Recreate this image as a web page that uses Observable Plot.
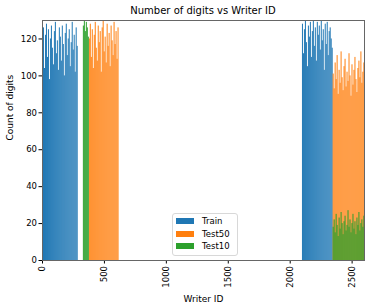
<!DOCTYPE html>
<html>
<head>
<meta charset="utf-8">
<script src="https://cdn.jsdelivr.net/npm/d3@7"></script>
<script src="https://cdn.jsdelivr.net/npm/@observablehq/plot@0.6"></script>
<style>
  body { margin: 0; background: #fff; font-family: "DejaVu Sans", sans-serif; }
  #wrap { position: relative; width: 374px; height: 308px; }
  #title { position: absolute; top: 5px; left: 42px; width: 322px; text-align: center; font-size: 10px; color: #000; }
  #legend { position: absolute; left: 172px; top: 213px; width: 64px; height: 41px; border: 1px solid #d8d8d8; border-radius: 3px; background: rgba(255,255,255,0.85); font-size: 8.5px; }
  .row { position: absolute; left: 3px; height: 12px; display: flex; align-items: center; }
  .sw { width: 18px; height: 6px; margin-right: 8px; }
</style>
</head>
<body>
<div id="wrap">
  <div id="title">Number of digits vs Writer ID</div>
</div>
<script>
const series = ["Train", "Test50", "Test10"];
const colors = ["#1f77b4", "#ff7f0e", "#2ca02c"];
const step = 8;

// start writer ID of each block, and counts per group of writers
const train1Start = 0;
const train1 = [118,126,104,122,128,110,125,98,120,127,115,106,124,129,112,119,103,126,121,108,127,117,100,123,128,111,120,125,105,118,129,114,122,102,126,116];
const test10aStart = 330;
const test10a = [127,130,124,129,126,121];
const test50aStart = 378;
const test50a = [120,128,110,125,104,122,129,115,108,127,118,124,102,126,130,113,121,107,128,116,123,105,127,119,111,129,117,124,109,126];
const train2Start = 2099;
const train2 = [128,112,125,130,118,105,127,121,129,110,124,130,116,126,108,129,122,127,114,130,119,125,103,128,117,129,111,124,126,120,115];
const test50bStart = 2347;
const test50b = [101,93,107,98,111,90,103,96,113,99,92,105,109,94,102,97,112,100,89,106,95,103,110,98,91,104,108,99,113,96,102,107];
const test10bStart = 2347;
const test10b = [18,22,15,25,19,13,23,17,26,20,14,21,24,16,19,27,18,22,15,20,25,17,21,14,23,19,26,16,20,22,18,24];

const xTicks = [0, 500, 1000, 1500, 2000, 2500];
const yTicks = [0, 20, 40, 60, 80, 100, 120];

function block(name, start, vals) {
  return vals.map((v, i) => ({set: name, id: start + i * step, count: v}));
}
const data = [
  ...block("Train", train1Start, train1),
  ...block("Train", train2Start, train2),
  ...block("Test50", test50aStart, test50a),
  ...block("Test50", test50bStart, test50b),
  ...block("Test10", test10aStart, test10a),
  ...block("Test10", test10bStart, test10b)
];

const chart = Plot.plot({
  width: 374,
  height: 308,
  marginTop: 20,
  marginLeft: 42,
  marginRight: 10,
  marginBottom: 48,
  style: {fontFamily: "DejaVu Sans, sans-serif", fontSize: "8.5px", color: "#000", background: "#fff"},
  x: {domain: [0, 2600], ticks: xTicks, tickFormat: d => String(d), tickRotate: -90, tickSize: 3.5, tickPadding: 2, label: null},
  y: {domain: [0, 130], ticks: yTicks, tickSize: 3.5, tickPadding: 2, label: null},
  color: {domain: series, range: colors},
  marks: [
    Plot.rect(data, {x1: "id", x2: d => d.id + step, y1: 0, y2: "count", fill: "set", inset: 0, clip: true}),
    Plot.frame({stroke: "#666", strokeWidth: 1}),
    Plot.text(["Writer ID"], {frameAnchor: "bottom", dy: 41, fontSize: 9, text: d => d}),
    Plot.text(["Count of digits"], {frameAnchor: "left", dx: -32, rotate: -90, fontSize: 9, text: d => d})
  ]
});
document.getElementById("wrap").appendChild(chart);

const leg = document.createElement("div");
leg.id = "legend";
series.forEach((s, i) => {
  const r = document.createElement("div");
  r.className = "row";
  r.style.top = (1 + i * 12.5) + "px";
  r.innerHTML = `<div class="sw" style="background:${colors[i]}"></div><span>${s}</span>`;
  leg.appendChild(r);
});
document.getElementById("wrap").appendChild(leg);
</script>
</body>
</html>
